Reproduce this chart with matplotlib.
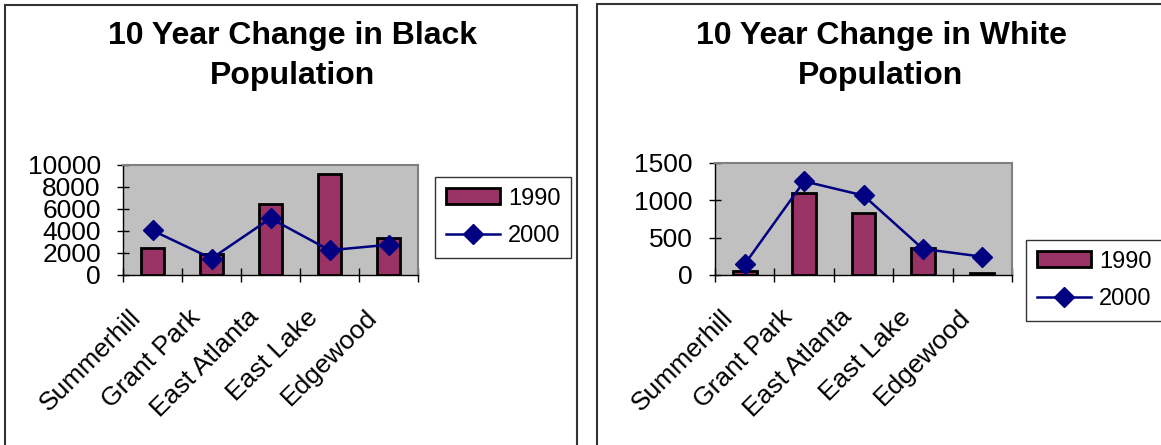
import matplotlib.pyplot as plt
from matplotlib.patches import Rectangle
from matplotlib.transforms import ScaledTranslation
import numpy as np

plt.rcParams['font.family'] = ['Liberation Sans', 'DejaVu Sans']

# Data
neighborhoods = ['Summerhill', 'Grant Park', 'East Atlanta', 'East Lake', 'Edgewood']
black_1990 = [2500, 1900, 6500, 9150, 3400]
black_2000 = [4050, 1500, 5150, 2250, 2750]
white_1990 = [50, 1095, 825, 360, 27]
white_2000 = [145, 1255, 1065, 350, 245]

W, H = 1161, 445
fig = plt.figure(figsize=(W / 100, H / 100), dpi=100, facecolor='white')

bar_color = '#993366'
line_color = '#000080'
fs = 19


def px_box(x0, y0, x1, y1):
    """pixel box (top-left origin) -> figure fraction rect"""
    return [x0 / W, (H - y1) / H, (x1 - x0) / W, (y1 - y0) / H]


# Panel borders
for (x0, y0, x1, y1) in [(5, 5, 577, 460), (597, 4, 1175, 460)]:
    fig.patches.append(Rectangle((x0 / W, (H - y1) / H), (x1 - x0) / W, (y1 - y0) / H,
                                 transform=fig.transFigure, fill=False,
                                 edgecolor='#333333', linewidth=1.5))


def draw_panel(rect, v1990, v2000, ymax, ystep, title, title_x, legend_box):
    ax = fig.add_axes(rect)
    ax.set_facecolor('#C0C0C0')
    x = np.arange(len(neighborhoods))
    bars = ax.bar(x, v1990, width=0.4, color=bar_color, edgecolor='black', linewidth=2,
                  label='1990', zorder=2)
    line, = ax.plot(x, v2000, color=line_color, linewidth=1.8, marker='D', markersize=10.5,
                    label='2000', zorder=3)
    ax.set_xlim(-0.5, len(neighborhoods) - 0.5)
    ax.set_ylim(0, ymax)
    ax.set_yticks(np.arange(0, ymax + 1, ystep))
    ax.tick_params(axis='y', labelsize=fs, direction='inout', length=8, width=1, pad=12)
    # tick marks between categories, labels at centers
    ax.set_xticks(np.arange(-0.5, len(neighborhoods), 1.0))
    ax.set_xticklabels([])
    ax.tick_params(axis='x', which='major', direction='inout', length=10, width=1)
    offset = ScaledTranslation(-24 / 100, -30 / 100, fig.dpi_scale_trans)
    for xi, name in zip(x, neighborhoods):
        ax.text(xi, 0, name, transform=ax.get_xaxis_transform() + offset,
                rotation=45, ha='right', va='top', rotation_mode='anchor', fontsize=fs)
    for side in ['top', 'right']:
        ax.spines[side].set_color('#808080')
        ax.spines[side].set_linewidth(1.5)
    for side in ['left', 'bottom']:
        ax.spines[side].set_color('black')
        ax.spines[side].set_linewidth(1.0)

    fig.text(title_x / W, 1 - 21 / H, title, ha='center', va='top', fontsize=23,
             fontweight='bold', linespacing=1.45)

    lx0, ly0 = legend_box
    leg = ax.legend([bars, line], ['1990', '2000'], loc='upper left',
                    bbox_to_anchor=(lx0 / W, 1 - ly0 / H),
                    bbox_transform=fig.transFigure, fontsize=17, frameon=True,
                    fancybox=False, borderpad=0.45, handlelength=2.3, handleheight=0.68,
                    handletextpad=0.35, labelspacing=0.65, borderaxespad=0)
    leg.get_frame().set_edgecolor('black')
    leg.get_frame().set_linewidth(1.0)
    return ax


draw_panel(px_box(123, 165, 418, 275), black_1990, black_2000, 10000, 2000,
           '10 Year Change in Black\nPopulation', 292, (435, 177))
draw_panel(px_box(715, 163, 1012, 275), white_1990, white_2000, 1500, 500,
           '10 Year Change in White\nPopulation', 881, (1026, 240))

fig.savefig('out.png', dpi=100, facecolor='white')
